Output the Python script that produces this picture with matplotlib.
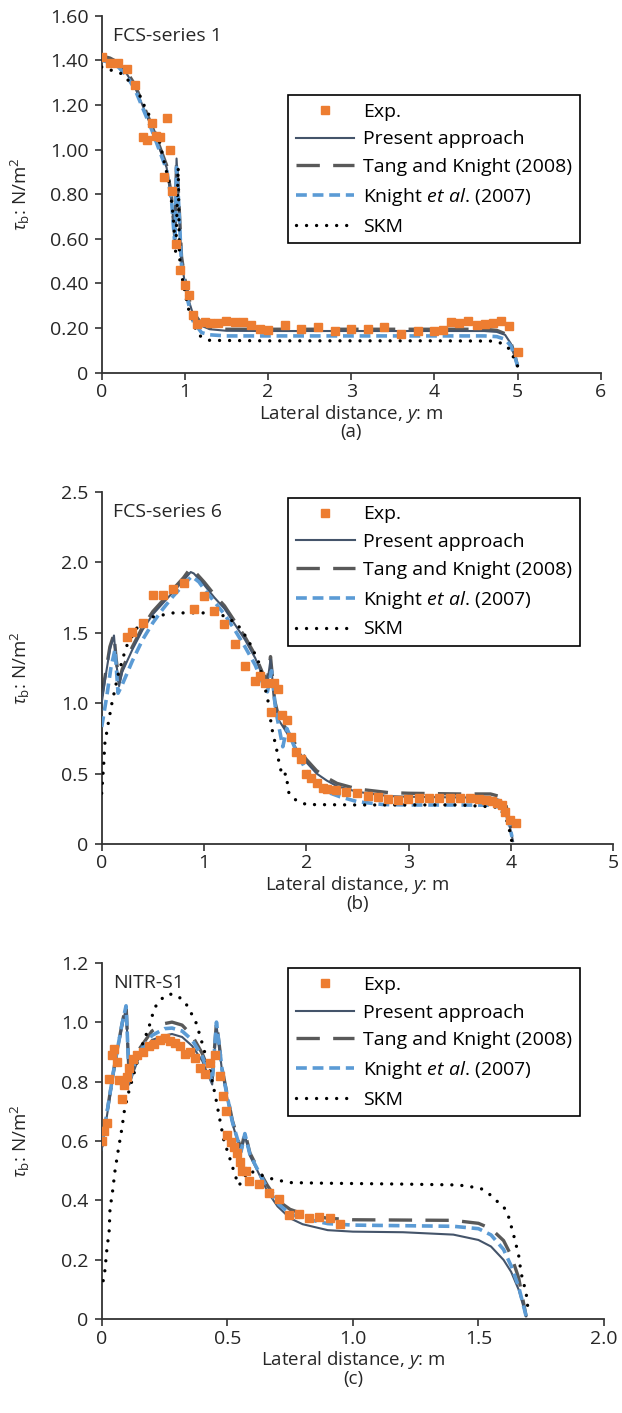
import matplotlib
matplotlib.use('Agg')
import matplotlib.pyplot as plt

plt.rcParams['font.family'] = ['Open Sans', 'DejaVu Sans']
plt.rcParams['mathtext.fontset'] = 'custom'
plt.rcParams['mathtext.rm'] = 'Open Sans'
plt.rcParams['mathtext.it'] = 'Open Sans:italic'
plt.rcParams['font.size'] = 13.5

# ---------------- panel (a): FCS-series 1 ----------------
a_exp_x = [0.0, 0.10, 0.20, 0.30, 0.40, 0.50, 0.55, 0.60, 0.65, 0.70, 0.75, 0.78, 0.82, 0.85, 0.89,
           0.94, 1.00, 1.05, 1.10, 1.15, 1.24, 1.30, 1.40, 1.50, 1.60, 1.70, 1.80, 1.90, 2.00, 2.20,
           2.40, 2.60, 2.80, 3.00, 3.20, 3.40, 3.60, 3.80, 4.00, 4.10, 4.20, 4.30, 4.40, 4.51, 4.61,
           4.70, 4.80, 4.90, 5.00]
a_exp_y = [1.417, 1.386, 1.387, 1.36, 1.29, 1.055, 1.045, 1.12, 1.06, 1.057, 0.877, 1.14, 1.00, 0.814,
           0.575, 0.462, 0.395, 0.35, 0.26, 0.22, 0.227, 0.222, 0.222, 0.234, 0.227, 0.227, 0.216, 0.197,
           0.192, 0.216, 0.197, 0.204, 0.186, 0.197, 0.194, 0.206, 0.174, 0.185, 0.189, 0.192, 0.227,
           0.225, 0.234, 0.216, 0.219, 0.223, 0.233, 0.21, 0.095]
a_model_x = [0, 0.1, 0.2, 0.3, 0.4, 0.5, 0.6, 0.7, 0.78, 0.84, 0.88, 0.90, 0.92, 0.96, 1.0, 1.05, 1.1,
             1.2, 1.3, 1.5, 2.0, 3.0, 4.0, 4.6, 4.75, 4.85, 4.92, 4.97, 5.0]
a_present_y = [1.41, 1.40, 1.38, 1.34, 1.28, 1.19, 1.10, 1.00, 0.92, 0.78, 0.58, 0.96, 0.82, 0.50, 0.40,
               0.32, 0.26, 0.21, 0.195, 0.188, 0.187, 0.187, 0.187, 0.187, 0.183, 0.17, 0.13, 0.07, 0.03]
a_tang_y = [1.42, 1.41, 1.39, 1.35, 1.29, 1.20, 1.11, 1.01, 0.93, 0.79, 0.60, 0.95, 0.83, 0.52, 0.42,
            0.33, 0.27, 0.22, 0.20, 0.195, 0.195, 0.195, 0.195, 0.195, 0.19, 0.175, 0.135, 0.075, 0.03]
a_knight_y = [1.40, 1.39, 1.37, 1.33, 1.27, 1.18, 1.09, 0.99, 0.91, 0.77, 0.57, 0.92, 0.80, 0.48, 0.38,
              0.30, 0.23, 0.18, 0.17, 0.165, 0.165, 0.165, 0.165, 0.165, 0.162, 0.15, 0.12, 0.07, 0.03]
a_skm_x = [0, 0.12, 0.24, 0.32, 0.40, 0.46, 0.52, 0.57, 0.64, 0.70, 0.76, 0.81, 0.84, 0.86, 0.89, 0.92,
           0.935, 0.96, 1.02, 1.06, 1.11, 1.14, 1.20, 1.3, 2.0, 3.0, 4.0, 4.7, 4.83, 4.92, 4.96, 5.0]
a_skm_y = [1.37, 1.355, 1.34, 1.31, 1.275, 1.24, 1.19, 1.155, 1.08, 1.03, 0.93, 0.855, 0.765, 0.70, 0.535,
           0.92, 0.52, 0.44, 0.325, 0.26, 0.22, 0.18, 0.16, 0.145, 0.143, 0.143, 0.143, 0.142, 0.13, 0.10,
           0.06, 0.03]

# ---------------- panel (b): FCS-series 6 ----------------
b_exp_x = [0.25, 0.30, 0.40, 0.50, 0.60, 0.70, 0.80, 0.90, 1.00, 1.10, 1.20, 1.30, 1.40, 1.50, 1.55,
           1.60, 1.65, 1.68, 1.72, 1.76, 1.81, 1.85, 1.90, 1.95, 2.00, 2.05, 2.10, 2.16, 2.20, 2.29,
           2.39, 2.50, 2.60, 2.70, 2.80, 2.90, 2.99, 3.10, 3.20, 3.30, 3.40, 3.50, 3.60, 3.69, 3.76,
           3.81, 3.86, 3.91, 3.94, 3.99, 4.05]
b_exp_y = [1.47, 1.505, 1.565, 1.77, 1.77, 1.81, 1.855, 1.67, 1.76, 1.65, 1.56, 1.42, 1.26, 1.16, 1.19,
           1.14, 0.94, 1.14, 1.10, 0.915, 0.88, 0.76, 0.65, 0.60, 0.50, 0.47, 0.43, 0.395, 0.39, 0.38,
           0.37, 0.365, 0.34, 0.33, 0.317, 0.31, 0.32, 0.326, 0.324, 0.324, 0.326, 0.324, 0.324, 0.32,
           0.31, 0.305, 0.29, 0.277, 0.23, 0.17, 0.15]
b_model_x = [0, 0.04, 0.08, 0.12, 0.14, 0.17, 0.2, 0.3, 0.4, 0.5, 0.6, 0.7, 0.8, 0.87, 0.9, 1.0, 1.1,
             1.2, 1.3, 1.4, 1.5, 1.58, 1.62, 1.65, 1.69, 1.73, 1.8, 1.9, 2.0, 2.1, 2.2, 2.3, 2.5, 2.8,
             3.0, 3.5, 3.8, 3.9, 3.95, 3.99, 4.02]
b_present_y = [1.0, 1.2, 1.38, 1.48, 1.3, 1.12, 1.22, 1.38, 1.52, 1.63, 1.71, 1.79, 1.87, 1.93, 1.92,
               1.84, 1.75, 1.67, 1.56, 1.45, 1.32, 1.18, 1.15, 1.31, 1.0, 0.88, 0.80, 0.68, 0.58, 0.50,
               0.45, 0.41, 0.37, 0.34, 0.335, 0.33, 0.33, 0.31, 0.26, 0.12, 0.02]
b_tang_y = [1.05, 1.22, 1.40, 1.49, 1.32, 1.15, 1.24, 1.40, 1.54, 1.65, 1.73, 1.81, 1.89, 1.96, 1.94,
            1.86, 1.77, 1.69, 1.58, 1.47, 1.34, 1.20, 1.17, 1.33, 1.02, 0.90, 0.82, 0.70, 0.60, 0.52,
            0.47, 0.43, 0.39, 0.365, 0.36, 0.355, 0.355, 0.335, 0.28, 0.14, 0.02]
b_knight_x = [0, 0.05, 0.09, 0.13, 0.16, 0.2, 0.3, 0.4, 0.5, 0.6, 0.7, 0.8, 0.88, 0.95, 1.0, 1.1, 1.2,
              1.3, 1.4, 1.5, 1.58, 1.62, 1.66, 1.70, 1.77, 1.81, 1.9, 2.0, 2.1, 2.2, 2.33, 2.5, 2.75,
              3.0, 3.5, 3.8, 3.9, 3.96, 3.99, 4.01]
b_knight_y = [0.83, 1.05, 1.25, 1.38, 1.07, 1.13, 1.30, 1.45, 1.57, 1.67, 1.76, 1.84, 1.90, 1.86, 1.81,
              1.72, 1.63, 1.52, 1.40, 1.27, 1.13, 1.08, 1.23, 0.95, 0.69, 0.82, 0.66, 0.52, 0.43, 0.37,
              0.335, 0.30, 0.28, 0.277, 0.277, 0.275, 0.26, 0.20, 0.12, 0.05]
b_skm_x = [0, 0.02, 0.03, 0.065, 0.10, 0.16, 0.24, 0.34, 0.49, 0.70, 0.99, 1.19, 1.32, 1.43, 1.53, 1.58,
           1.63, 1.66, 1.71, 1.74, 1.77, 1.80, 1.83, 1.90, 2.0, 2.5, 3.0, 3.5, 3.89, 3.97, 3.99, 4.01]
b_skm_y = [0.36, 0.57, 0.71, 0.86, 1.0, 1.2, 1.40, 1.53, 1.61, 1.64, 1.64, 1.62, 1.565, 1.45, 1.30, 1.16,
           1.0, 0.83, 0.67, 0.55, 0.48, 0.50, 0.36, 0.31, 0.28, 0.277, 0.277, 0.277, 0.26, 0.15, 0.08, 0.01]

# ---------------- panel (c): NITR-S1 ----------------
c_exp_x = [0.0, 0.01, 0.02, 0.03, 0.04, 0.05, 0.062, 0.07, 0.08, 0.09, 0.10, 0.11, 0.124, 0.14, 0.165,
           0.187, 0.21, 0.233, 0.253, 0.273, 0.29, 0.31, 0.333, 0.353, 0.373, 0.393, 0.413, 0.43, 0.45,
           0.473, 0.484, 0.493, 0.50, 0.516, 0.527, 0.537, 0.549, 0.56, 0.573, 0.587, 0.627, 0.667,
           0.707, 0.747, 0.787, 0.827, 0.867, 0.907, 0.95]
c_exp_y = [0.60, 0.635, 0.66, 0.81, 0.89, 0.91, 0.865, 0.805, 0.74, 0.79, 0.817, 0.845, 0.876, 0.89, 0.90,
           0.92, 0.927, 0.94, 0.948, 0.935, 0.93, 0.918, 0.892, 0.898, 0.879, 0.847, 0.825, 0.864, 0.89,
           0.82, 0.75, 0.70, 0.62, 0.598, 0.58, 0.56, 0.53, 0.50, 0.50, 0.467, 0.455, 0.424, 0.404, 0.351,
           0.355, 0.34, 0.343, 0.34, 0.32]
c_model_x = [0, 0.02, 0.05, 0.08, 0.097, 0.11, 0.13, 0.15, 0.2, 0.25, 0.28, 0.32, 0.36, 0.4, 0.44, 0.457,
             0.48, 0.52, 0.555, 0.57, 0.59, 0.62, 0.66, 0.70, 0.75, 0.8, 0.9, 1.0, 1.2, 1.4, 1.5, 1.55,
             1.6, 1.63, 1.66, 1.69]
c_present_y = [0.57, 0.68, 0.84, 0.98, 1.05, 0.79, 0.84, 0.885, 0.94, 0.955, 0.96, 0.95, 0.92, 0.87, 0.79,
               0.99, 0.83, 0.66, 0.56, 0.62, 0.55, 0.50, 0.43, 0.38, 0.34, 0.32, 0.30, 0.295, 0.293, 0.285,
               0.267, 0.245, 0.20, 0.16, 0.10, 0.01]
c_tang_y = [0.58, 0.69, 0.85, 0.99, 1.06, 0.80, 0.86, 0.91, 0.97, 0.995, 1.0, 0.99, 0.955, 0.895, 0.81,
            1.0, 0.84, 0.67, 0.57, 0.63, 0.56, 0.51, 0.45, 0.40, 0.37, 0.355, 0.34, 0.335, 0.334, 0.333,
            0.323, 0.305, 0.265, 0.215, 0.14, 0.01]
c_knight_y = [0.59, 0.69, 0.85, 0.99, 1.055, 0.80, 0.855, 0.90, 0.955, 0.978, 0.98, 0.97, 0.94, 0.885, 0.80,
              1.0, 0.835, 0.665, 0.565, 0.625, 0.555, 0.505, 0.44, 0.39, 0.355, 0.34, 0.322, 0.317, 0.315,
              0.313, 0.305, 0.284, 0.235, 0.18, 0.11, 0.01]
c_skm_x = [0.006, 0.013, 0.02, 0.03, 0.033, 0.044, 0.053, 0.066, 0.08, 0.09, 0.106, 0.133, 0.16, 0.187,
           0.21, 0.233, 0.267, 0.30, 0.333, 0.353, 0.373, 0.393, 0.413, 0.433, 0.453, 0.473, 0.487, 0.507,
           0.533, 0.547, 0.56, 0.587, 0.62, 0.667, 0.707, 0.753, 0.887, 1.2, 1.42, 1.47, 1.51, 1.54, 1.57,
           1.60, 1.62, 1.63, 1.64, 1.66, 1.67, 1.69, 1.70]
c_skm_y = [0.13, 0.166, 0.23, 0.30, 0.37, 0.435, 0.50, 0.57, 0.64, 0.70, 0.76, 0.84, 0.92, 0.98, 1.047,
           1.075, 1.095, 1.09, 1.066, 1.035, 1.005, 0.95, 0.89, 0.83, 0.75, 0.66, 0.60, 0.55, 0.48, 0.45,
           0.47, 0.50, 0.49, 0.475, 0.467, 0.46, 0.458, 0.455, 0.452, 0.446, 0.44, 0.424, 0.40, 0.38,
           0.345, 0.315, 0.284, 0.216, 0.155, 0.088, 0.015]

labels = ['Exp.', 'Present approach', 'Tang and Knight (2008)',
          r'Knight $\it{et\ al}$. (2007)', 'SKM']

ORANGE = '#ED7D31'
SLATE = '#44546A'
GREY = '#595959'
BLUE = '#5B9BD5'
TXT = '#262626'
FIG_W = 622


def draw(ax, exp_x, exp_y, pres_x, pres_y, tang_x, tang_y, kn_x, kn_y, skm_x, skm_y,
         title, sub, legend_anchor):
    h_tang, = ax.plot(tang_x, tang_y, color=GREY, lw=2.4, ls=(0, (7, 4)), zorder=2)
    h_pres, = ax.plot(pres_x, pres_y, color=SLATE, lw=1.5, zorder=3)
    h_kn, = ax.plot(kn_x, kn_y, color=BLUE, lw=2.6, ls=(0, (3, 1.6)), zorder=4)
    h_skm, = ax.plot(skm_x, skm_y, color='black', lw=2.4, ls=(0, (0.01, 3.0)),
                     dash_capstyle='round', zorder=5)
    h_exp, = ax.plot(exp_x, exp_y, ls='none', marker='s', ms=6, color=ORANGE, zorder=6)
    ax.legend([h_exp, h_pres, h_tang, h_kn, h_skm], labels, loc='upper right',
              bbox_to_anchor=legend_anchor, fancybox=False, framealpha=1, edgecolor='black',
              handlelength=3.0, handletextpad=0.45, labelspacing=0.5, borderpad=0.4,
              borderaxespad=0, fontsize=14).get_frame().set_linewidth(1.2)
    ax.text(0.022, 0.968, title, transform=ax.transAxes, ha='left', va='top', color=TXT,
            fontsize=14)
    ax.set_xlabel('Lateral distance, $y$: m', color=TXT, labelpad=1)
    ax.set_ylabel(r'$\tau_\mathrm{b}$: N/m$^2$', color=TXT)
    # y label sits a fixed number of pixels left of the axis
    ax_w_px = ax.get_position().width * FIG_W
    ax.yaxis.set_label_coords(-70.0 / ax_w_px, 0.5)
    ax.annotate(sub, xy=(0.5, 0), xycoords='axes fraction', xytext=(0, -43),
                textcoords='offset points', ha='center', va='center', color=TXT)
    for s in ['top', 'right']:
        ax.spines[s].set_visible(False)
    for s in ['left', 'bottom']:
        ax.spines[s].set_linewidth(1.3)
        ax.spines[s].set_color('#333333')
    ax.tick_params(direction='out', length=5, width=1.2, pad=2.5, color='#333333',
                   labelcolor=TXT, labelsize=14)
    ax.tick_params(axis='y', pad=4.5)


fig = plt.figure(figsize=(6.22, 14.13), dpi=100)

ax1 = fig.add_axes([0.1635, 0.7362, 0.8023, 0.2527])
draw(ax1, a_exp_x, a_exp_y, a_model_x, a_present_y, a_model_x, a_tang_y, a_model_x, a_knight_y,
     a_skm_x, a_skm_y, 'FCS-series 1', '(a)', (0.9585, 0.778))
ax1.set_xlim(0, 6)
ax1.set_ylim(0, 1.6)
ax1.set_xticks(range(0, 7))
ax1.set_yticks([i * 0.2 for i in range(9)])
ax1.set_yticklabels(['0'] + ['%.2f' % (i * 0.2) for i in range(1, 9)])

ax2 = fig.add_axes([0.1635, 0.4027, 0.8225, 0.2493])
draw(ax2, b_exp_x, b_exp_y, b_model_x, b_present_y, b_model_x, b_tang_y, b_knight_x, b_knight_y,
     b_skm_x, b_skm_y, 'FCS-series 6', '(b)', (0.935, 0.983))
ax2.set_xlim(0, 5)
ax2.set_ylim(0, 2.5)
ax2.set_xticks(range(0, 6))
ax2.set_yticks([i * 0.5 for i in range(6)])
ax2.set_yticklabels(['0'] + ['%.1f' % (i * 0.5) for i in range(1, 6)])

ax3 = fig.add_axes([0.1635, 0.0663, 0.8076, 0.2524])
draw(ax3, c_exp_x, c_exp_y, c_model_x, c_present_y, c_model_x, c_tang_y, c_model_x, c_knight_y,
     c_skm_x, c_skm_y, 'NITR-S1', '(c)', (0.952, 0.985))
ax3.set_xlim(0, 2.0)
ax3.set_ylim(0, 1.2)
ax3.set_xticks([0, 0.5, 1.0, 1.5, 2.0])
ax3.set_xticklabels(['0', '0.5', '1.0', '1.5', '2.0'])
ax3.set_yticks([i * 0.2 for i in range(7)])
ax3.set_yticklabels(['0'] + ['%.1f' % (i * 0.2) for i in range(1, 7)])

fig.savefig('out.png', dpi=100)
